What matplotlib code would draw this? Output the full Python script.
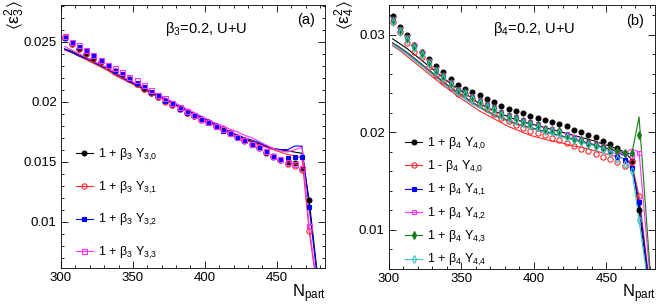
import numpy as np
import matplotlib
matplotlib.use("Agg")
import matplotlib.pyplot as plt
from matplotlib.ticker import MultipleLocator

plt.rcParams['font.family'] = ['Liberation Sans', 'DejaVu Sans']
plt.rcParams['mathtext.default'] = 'regular'

# N_part bins (centres) and the extra point where the model curves leave the frame
npart = [302.5, 307.5, 312.5, 317.5, 322.5, 327.5, 332.5, 337.5, 342.5, 347.5,
         352.5, 357.5, 362.5, 367.5, 372.5, 377.5, 382.5, 387.5, 392.5, 397.5,
         402.5, 407.5, 412.5, 417.5, 422.5, 427.5, 432.5, 437.5, 442.5, 447.5,
         452.5, 457.5, 462.5, 467.5, 472.5]
npart_line = npart + [482.5]

# ---- panel (a): <eps_3^2>, beta_3 = 0.2 ----
eps3_y30 = [0.0253, 0.0248, 0.0244, 0.0240, 0.0236, 0.0233, 0.0229, 0.02255, 0.0222, 0.0219,
            0.0215, 0.0211, 0.0207, 0.0204, 0.0201, 0.0197, 0.0194, 0.0191, 0.0188, 0.0186,
            0.0183, 0.0180, 0.0177, 0.0174, 0.0171, 0.0167, 0.0165, 0.0161, 0.0157, 0.0154,
            0.0151, 0.0149, 0.0149, 0.0144, 0.0118]
eps3_y31 = [0.0254, 0.0248, 0.0244, 0.0240, 0.0236, 0.0233, 0.0229, 0.0226, 0.0222, 0.0219,
            0.0215, 0.0211, 0.0207, 0.0204, 0.0200, 0.0197, 0.0194, 0.0191, 0.0188, 0.0185,
            0.0183, 0.0180, 0.0177, 0.0174, 0.0171, 0.0168, 0.0165, 0.0162, 0.0158, 0.0155,
            0.0151, 0.0148, 0.0146, 0.0143, 0.0092]
eps3_y32 = [0.0253, 0.0249, 0.0246, 0.0242, 0.0238, 0.0234, 0.0230, 0.0226, 0.0223, 0.0219,
            0.0216, 0.0212, 0.0208, 0.0205, 0.0201, 0.0198, 0.0194, 0.0191, 0.0188, 0.0185,
            0.0182, 0.0179, 0.0176, 0.0174, 0.0171, 0.0168, 0.0164, 0.0161, 0.0158, 0.0155,
            0.0152, 0.0153, 0.0154, 0.0154, 0.0112]
eps3_y33 = [0.0255, 0.0250, 0.0247, 0.0243, 0.0239, 0.0235, 0.0231, 0.0228, 0.0225, 0.0221,
            0.0218, 0.0214, 0.0210, 0.0206, 0.0203, 0.0199, 0.0196, 0.0192, 0.0189, 0.0186,
            0.0183, 0.0180, 0.0177, 0.0174, 0.0171, 0.0168, 0.0165, 0.0162, 0.0159, 0.0155,
            0.0152, 0.0150, 0.0148, 0.0145, 0.0096]

line3_y30 = [0.0244, 0.0242, 0.0239, 0.0236, 0.0233, 0.0230, 0.0227, 0.0223, 0.0220, 0.0217,
             0.0214, 0.0211, 0.0208, 0.0205, 0.0202, 0.0199, 0.0196, 0.0193, 0.0190, 0.0187,
             0.0184, 0.0181, 0.0178, 0.0175, 0.0172, 0.0169, 0.0167, 0.0165, 0.0163, 0.0161,
             0.0160, 0.0159, 0.0158, 0.0157, 0.0118, 0.0010]
line3_y31 = [0.0243, 0.0241, 0.0238, 0.0235, 0.0232, 0.0229, 0.0226, 0.0222, 0.0219, 0.0216,
             0.0213, 0.0210, 0.0207, 0.0204, 0.0201, 0.0198, 0.0195, 0.0192, 0.0189, 0.0186,
             0.0183, 0.0180, 0.0177, 0.0174, 0.0171, 0.0168, 0.0166, 0.0164, 0.0162, 0.0160,
             0.0158, 0.0156, 0.0155, 0.0153, 0.0092, 0.0005]
line3_y32 = [0.0244, 0.0241, 0.0238, 0.0236, 0.0233, 0.0230, 0.0227, 0.0224, 0.0220, 0.0217,
             0.0214, 0.0211, 0.0208, 0.0205, 0.0202, 0.0199, 0.0196, 0.0193, 0.0190, 0.0187,
             0.0184, 0.0181, 0.0178, 0.0175, 0.0172, 0.0170, 0.0168, 0.0166, 0.0163, 0.0161,
             0.0160, 0.0160, 0.0163, 0.0163, 0.0112, 0.0008]
line3_y33 = [0.0246, 0.0243, 0.0240, 0.0237, 0.0234, 0.0231, 0.0228, 0.0224, 0.0221, 0.0218,
             0.0215, 0.0212, 0.0209, 0.0206, 0.0203, 0.0200, 0.0197, 0.0194, 0.0191, 0.0188,
             0.0185, 0.0182, 0.0180, 0.0177, 0.0175, 0.0172, 0.0170, 0.0167, 0.0164, 0.0161,
             0.0159, 0.0158, 0.0160, 0.0162, 0.0096, 0.0006]

# ---- panel (b): <eps_4^2>, beta_4 = 0.2 ----
eps4_p40 = [0.0319, 0.0308, 0.0300, 0.0290, 0.0282, 0.0275, 0.0268, 0.0262, 0.0255, 0.0249,
            0.0245, 0.0241, 0.0238, 0.0234, 0.0231, 0.0227, 0.0224, 0.0222, 0.0220, 0.0217,
            0.0215, 0.0213, 0.0211, 0.0209, 0.0207, 0.0203, 0.0200, 0.0197, 0.0195, 0.0191,
            0.0188, 0.0184, 0.0179, 0.0171, 0.0121]
eps4_m40 = [0.0313, 0.0303, 0.0292, 0.0283, 0.0277, 0.0267, 0.0259, 0.0253, 0.0246, 0.0239,
            0.0239, 0.0234, 0.0229, 0.0224, 0.0219, 0.0215, 0.0212, 0.0208, 0.0205, 0.0202,
            0.0199, 0.0197, 0.0194, 0.0192, 0.0189, 0.0186, 0.0183, 0.0181, 0.0178, 0.0175,
            0.0173, 0.0170, 0.0166, 0.0170, 0.0135]
eps4_y41 = [0.0315, 0.0305, 0.0297, 0.0289, 0.0281, 0.0272, 0.0264, 0.0258, 0.0251, 0.0244,
            0.0241, 0.0236, 0.0232, 0.0228, 0.0225, 0.0220, 0.0217, 0.0215, 0.0212, 0.0210,
            0.0208, 0.0204, 0.0203, 0.0201, 0.0197, 0.0194, 0.0192, 0.0189, 0.0187, 0.0184,
            0.0181, 0.0175, 0.0172, 0.0164, 0.0129]
eps4_y42 = [0.0316, 0.0306, 0.0298, 0.0290, 0.0282, 0.0273, 0.0265, 0.0259, 0.0252, 0.0245,
            0.0242, 0.0237, 0.0233, 0.0229, 0.0226, 0.0221, 0.0218, 0.0216, 0.0213, 0.0211,
            0.0209, 0.0205, 0.0204, 0.0202, 0.0198, 0.0195, 0.0193, 0.0190, 0.0188, 0.0186,
            0.0183, 0.0180, 0.0179, 0.0176, 0.0179]
eps4_y43 = [0.0315, 0.0305, 0.0297, 0.0289, 0.0281, 0.0272, 0.0264, 0.0258, 0.0251, 0.0244,
            0.0241, 0.0236, 0.0232, 0.0228, 0.0225, 0.0220, 0.0217, 0.0215, 0.0212, 0.0210,
            0.0208, 0.0204, 0.0203, 0.0201, 0.0196, 0.0193, 0.0192, 0.0189, 0.0187, 0.0185,
            0.0183, 0.0181, 0.0179, 0.0179, 0.0197]
eps4_y44 = [0.0313, 0.0303, 0.0295, 0.0287, 0.0279, 0.0270, 0.0262, 0.0256, 0.0249, 0.0242,
            0.0239, 0.0234, 0.0230, 0.0226, 0.0223, 0.0218, 0.0215, 0.0213, 0.0210, 0.0208,
            0.0206, 0.0202, 0.0201, 0.0199, 0.0195, 0.0192, 0.0190, 0.0187, 0.0185, 0.0182,
            0.0179, 0.0173, 0.0168, 0.0160, 0.0110]

line4_p40 = [0.0296, 0.0291, 0.0286, 0.0280, 0.0274, 0.0268, 0.0262, 0.0256, 0.0250, 0.0245,
             0.0240, 0.0235, 0.0229, 0.0226, 0.0222, 0.0219, 0.0216, 0.0213, 0.0211, 0.0209,
             0.0207, 0.0205, 0.0203, 0.0201, 0.0199, 0.0197, 0.0195, 0.0193, 0.0191, 0.0188,
             0.0186, 0.0183, 0.0180, 0.0172, 0.0121, 0.0006]
line4_m40 = [0.0289, 0.0284, 0.0278, 0.0272, 0.0266, 0.0260, 0.0254, 0.0248, 0.0243, 0.0237,
             0.0232, 0.0227, 0.0222, 0.0218, 0.0214, 0.0210, 0.0206, 0.0203, 0.0200, 0.0197,
             0.0195, 0.0193, 0.0191, 0.0190, 0.0188, 0.0186, 0.0185, 0.0183, 0.0181, 0.0179,
             0.0177, 0.0175, 0.0173, 0.0168, 0.0135, 0.0010]
line4_y41 = [0.0292, 0.0287, 0.0282, 0.0276, 0.0270, 0.0264, 0.0258, 0.0252, 0.0246, 0.0241,
             0.0236, 0.0231, 0.0226, 0.0222, 0.0218, 0.0215, 0.0212, 0.0209, 0.0207, 0.0205,
             0.0203, 0.0201, 0.0199, 0.0197, 0.0195, 0.0193, 0.0191, 0.0189, 0.0187, 0.0185,
             0.0183, 0.0180, 0.0176, 0.0165, 0.0129, 0.0008]
line4_y42 = [0.0291, 0.0286, 0.0281, 0.0275, 0.0269, 0.0263, 0.0257, 0.0251, 0.0245, 0.0240,
             0.0235, 0.0230, 0.0226, 0.0222, 0.0218, 0.0215, 0.0212, 0.0209, 0.0207, 0.0205,
             0.0203, 0.0201, 0.0199, 0.0197, 0.0195, 0.0193, 0.0191, 0.0189, 0.0187, 0.0185,
             0.0183, 0.0181, 0.0179, 0.0183, 0.0180, 0.0010]
line4_y43 = [0.0292, 0.0287, 0.0282, 0.0276, 0.0270, 0.0264, 0.0258, 0.0252, 0.0246, 0.0241,
             0.0236, 0.0231, 0.0226, 0.0222, 0.0218, 0.0215, 0.0212, 0.0209, 0.0207, 0.0205,
             0.0203, 0.0201, 0.0199, 0.0197, 0.0195, 0.0193, 0.0191, 0.0189, 0.0187, 0.0185,
             0.0183, 0.0181, 0.0179, 0.0178, 0.0216, 0.0010]
line4_y44 = [0.0290, 0.0285, 0.0280, 0.0274, 0.0268, 0.0262, 0.0256, 0.0250, 0.0244, 0.0239,
             0.0234, 0.0229, 0.0225, 0.0221, 0.0217, 0.0214, 0.0211, 0.0208, 0.0206, 0.0204,
             0.0202, 0.0200, 0.0198, 0.0196, 0.0194, 0.0192, 0.0190, 0.0188, 0.0186, 0.0184,
             0.0181, 0.0177, 0.0172, 0.0162, 0.0110, 0.0005]

labels_a = ['1 + β$_3$ Y$_{3{,}0}$', '1 + β$_3$ Y$_{3{,}1}$',
            '1 + β$_3$ Y$_{3{,}2}$', '1 + β$_3$ Y$_{3{,}3}$']
labels_b = ['1 + β$_4$ Y$_{4{,}0}$', '1 - β$_4$ Y$_{4{,}0}$', '1 + β$_4$ Y$_{4{,}1}$',
            '1 + β$_4$ Y$_{4{,}2}$', '1 + β$_4$ Y$_{4{,}3}$', '1 + β$_4$ Y$_{4{,}4}$']

RED = '#ff2a2a'
MAG = '#ff33ff'
GRN = '#157a15'
CYN = '#3cc4c4'

fig = plt.figure(figsize=(6.64, 3.07), dpi=100)
ax1 = fig.add_axes([61 / 664, 39 / 307, 264 / 664, 263 / 307])
ax2 = fig.add_axes([389 / 664, 38 / 307, 266 / 664, 264 / 307])


def draw(ax, pts, lines, styles, labels):
    handles = []
    for p, l, (c, m, ms, filled), lab in zip(pts, lines, styles, labels):
        ax.plot(npart_line, l, color=c, lw=0.8, zorder=2)
        ax.plot(npart, p, ls='none', marker=m, ms=ms, color=c,
                mfc=c if filled else 'none', mew=0.8, zorder=3)
        # legend proxy: line + marker
        proxy, = ax.plot([], [], color=c, lw=0.8, marker=m, ms=ms,
                         mfc=c if filled else 'none', mew=0.8, label=lab)
        handles.append(proxy)
    return handles


h1 = draw(ax1,
          [eps3_y30, eps3_y31, eps3_y32, eps3_y33],
          [line3_y30, line3_y31, line3_y32, line3_y33],
          [('black', 'o', 3.5, True), (RED, 'o', 3.8, False),
           ('#0000ff', 's', 3.2, True), (MAG, 's', 3.6, False)],
          labels_a)
h2 = draw(ax2,
          [eps4_p40, eps4_m40, eps4_y41, eps4_y42, eps4_y43, eps4_y44],
          [line4_p40, line4_m40, line4_y41, line4_y42, line4_y43, line4_y44],
          [('black', 'o', 3.5, True), (RED, 'o', 3.8, False),
           ('#0000ff', 's', 3.2, True), (MAG, 's', 3.4, False),
           (GRN, 'd', 4.2, True), (CYN, 'd', 4.2, False)],
          labels_b)

for ax, ylo, yhi in [(ax1, 0.00614, 0.02806), (ax2, 0.0060, 0.03307)]:
    ax.set_xlim(300, 483.5)
    ax.set_ylim(ylo, yhi)
    ax.xaxis.set_major_locator(MultipleLocator(50))
    ax.xaxis.set_minor_locator(MultipleLocator(10))
    ax.tick_params(which='both', direction='in', top=True, right=True,
                   labelsize=9.5, width=0.6, pad=3)
    ax.tick_params(which='major', length=5)
    ax.tick_params(which='minor', length=2.5)
    for s in ax.spines.values():
        s.set_linewidth(0.6)

ax1.yaxis.set_minor_locator(MultipleLocator(0.001))
ax1.set_yticks([0.01, 0.015, 0.02, 0.025])
ax1.set_yticklabels(['0.01', '0.015', '0.02', '0.025'])
ax2.yaxis.set_minor_locator(MultipleLocator(0.002))
ax2.set_yticks([0.01, 0.02, 0.03])
ax2.set_yticklabels(['0.01', '0.02', '0.03'])

ax1.legend(handles=h1, loc='upper left', bbox_to_anchor=(0.058, 0.46), frameon=False,
           fontsize=9, handlelength=1.3, handletextpad=0.4, labelspacing=1.32,
           borderpad=0, borderaxespad=0)
ax2.legend(handles=h2, loc='upper left', bbox_to_anchor=(0.062, 0.505), frameon=False,
           fontsize=9, handlelength=1.3, handletextpad=0.4, labelspacing=0.58,
           borderpad=0, borderaxespad=0)

ax1.text(0.551, 0.8935, 'β$_3$=0.2, U+U', transform=ax1.transAxes, ha='center',
         va='baseline', fontsize=10.5)
ax2.text(0.545, 0.894, 'β$_4$=0.2, U+U', transform=ax2.transAxes, ha='center',
         va='baseline', fontsize=10.5)
ax1.text(0.928, 0.926, '(a)', transform=ax1.transAxes, ha='center', va='baseline', fontsize=10.5)
ax2.text(0.925, 0.926, '(b)', transform=ax2.transAxes, ha='center', va='baseline', fontsize=10.5)

fig.text(326 / 664, 0.03, '$N_{part}$', ha='right', va='baseline', fontsize=12)
fig.text(656 / 664, 0.03, '$N_{part}$', ha='right', va='baseline', fontsize=12)
fig.text(15 / 664, 1.0, r'$\langle\varepsilon_3^2\rangle$', rotation=90,
         ha='center', va='top', fontsize=12.5)
fig.text(345 / 664, 1.0, r'$\langle\varepsilon_4^2\rangle$', rotation=90,
         ha='center', va='top', fontsize=12.5)

fig.savefig('out.png', dpi=100)
